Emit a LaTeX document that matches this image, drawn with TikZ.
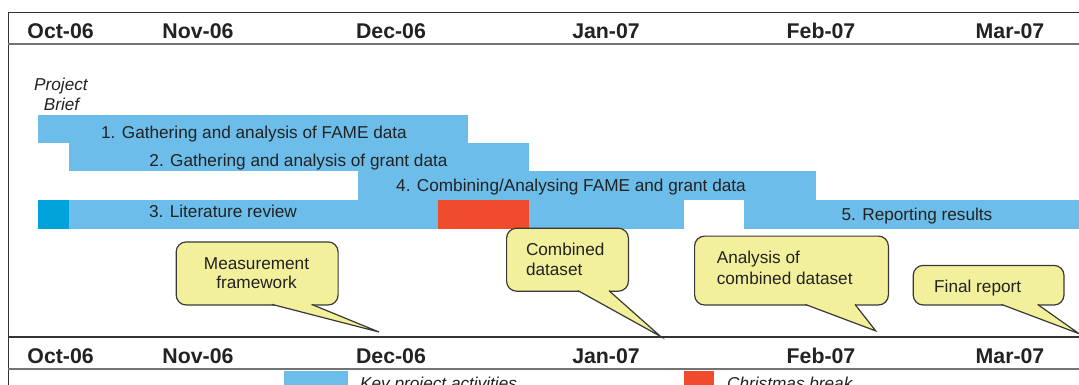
\documentclass[tikz,border=0pt]{standalone}
\usepackage{fontspec}
\setmainfont{Liberation Sans}
\definecolor{barblue}{HTML}{6CBDE9}
\definecolor{barteal}{HTML}{00A3D9}
\definecolor{barred}{HTML}{F04B2D}
\definecolor{callyellow}{HTML}{F3F09C}
\definecolor{inkdark}{HTML}{222222}
\newcommand{\drawcallptr}[5]{% y of box bottom, base x1, base x2, tip x, tip y
  \fill[callyellow] (#2,#1-2.2) -- (#2,#1) -- (#4,#5) -- (#3,#1) -- (#3,#1-2.2) -- cycle;
  \draw[callline] (#2,#1) -- (#4,#5) -- (#3,#1);}
\begin{document}
\begin{tikzpicture}[x=1pt,y=-1pt,
  hdr/.style={font=\fontsize{21.3}{24}\selectfont\bfseries, text=inkdark, anchor=base, inner sep=0},
  bartxt/.style={font=\fontsize{17.2}{20.5}\selectfont, text=inkdark, anchor=base, inner sep=0},
  ittxt/.style={font=\fontsize{17.2}{20.5}\selectfont\itshape, text=inkdark, anchor=base, inner sep=0},
  calltxt/.style={font=\fontsize{17.2}{20.5}\selectfont, text=inkdark, anchor=base, inner sep=0},
  calltxtl/.style={calltxt, anchor=base west},
  callline/.style={draw=inkdark!90, line width=1.2pt, line join=miter},
  callbox/.style={callline, fill=callyellow, rounded corners=10pt, inner sep=0, anchor=north west},
  frame/.style={draw=black!80, line width=1.3pt},
  gridl/.style={draw=black!55, line width=1.5pt}]
\useasboundingbox (0,0) rectangle (1079,385);
\clip (0,0) rectangle (1079,385);
\fill[white] (0,0) rectangle (1079,385);

% frame lines
\draw[frame] (8.3,390) -- (8.3,12.7) -- (1080,12.7);
\draw[gridl] (8.3,44) -- (1080,44);
\draw[frame] (8.3,337) -- (1080,337);
\draw[gridl] (8.3,368.8) -- (1080,368.8);

% month headers
\foreach \m/\x [count=\i] in {Oct-06/60.6, Nov-06/198, Dec-06/391, Jan-07/606, Feb-07/821, Mar-07/1010}{
  \node[hdr] (top\i) at (\x,38.9) {\m};
  \node[hdr] (bot\i) at (\x,363.9) {\m};
}

% project brief
\node[ittxt] (pb1) at (61,90.2) {Project};
\node[ittxt] (pb2) at (61.5,110.2) {Brief};

% bars
\fill[barblue] (37.9,114.7) rectangle (467.6,143.4);
\fill[barblue] (68.9,143.2) rectangle (528.6,171.2);
\fill[barblue] (358,171) rectangle (815.5,200.2);
\fill[barblue] (68.9,200) rectangle (684,229);
\fill[barteal] (37.9,200) rectangle (68.9,229);
\fill[barred] (438,200) rectangle (528.6,229);
\fill[barblue] (744,200) rectangle (1080,229);

\node[bartxt] (t1) at (254,138.4) {1. Gathering and analysis of FAME data};
\node[bartxt] (t2) at (298.5,166.3) {2. Gathering and analysis of grant data};
\node[bartxt] (t4) at (571,191.8) {4. Combining/Analysing FAME and grant data};
\node[bartxt] (t3) at (223,217) {3. Literature review};
\node[bartxt] (t5) at (917,220.4) {5. Reporting results};

% callouts
\node[callbox, minimum width=161.9pt, minimum height=63.1pt] (mbox) at (175.6,241.3) {};
\drawcallptr{304.4}{272}{311.6}{379}{332}
\node[calltxt] (m1) at (256.5,269.2) {Measurement};
\node[calltxt] (m2) at (256.5,288.9) {framework};

\node[callbox, minimum width=121.8pt, minimum height=63pt] (cbox) at (506,227.6) {};
\drawcallptr{290.6}{577.9}{608.9}{660.5}{336.4}
\node[calltxtl] (c1) at (525.8,255) {Combined};
\node[calltxtl] (c2) at (525.8,275.8) {dataset};

\node[callbox, minimum width=193.8pt, minimum height=68.9pt] (abox) at (694,235.5) {};
\drawcallptr{304.4}{805.2}{855}{875.7}{330.9}
\node[calltxtl] (a1) at (716.6,263) {Analysis of};
\node[calltxtl] (a2) at (716.6,284.4) {combined dataset};

\node[callbox, minimum width=150.8pt, minimum height=39.6pt] (fbox) at (912.6,264.8) {};
\drawcallptr{304.4}{1001.4}{1037.6}{1078.9}{333.6}
\node[calltxtl] (f1) at (934,292.3) {Final report};

% legend
\fill[barblue] (284,370.5) rectangle (348,392);
\node[ittxt, anchor=base west] (lg1) at (360,389.5) {Key project activities};
\fill[barred] (684,370.5) rectangle (714,392);
\node[ittxt, anchor=base west] (lg2) at (727,389.5) {Christmas break};
\end{tikzpicture}
\end{document}
